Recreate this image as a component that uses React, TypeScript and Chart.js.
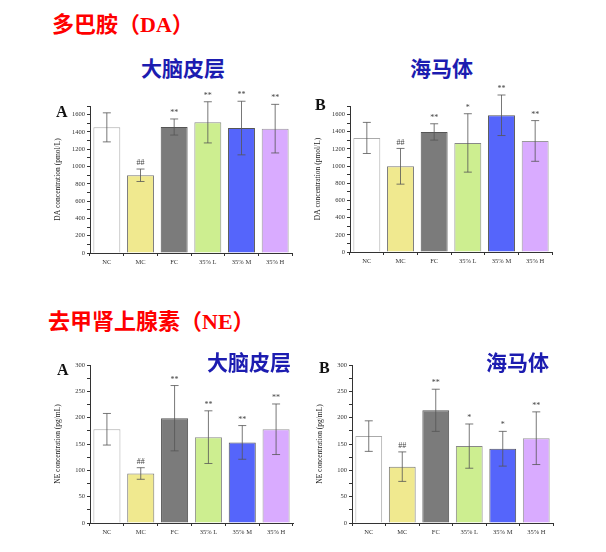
import { useEffect, useRef } from "react"
import { Chart, registerables } from "chart.js"

Chart.register(...registerables)

const groups = ["NC", "MC", "FC", "35% L", "35% M", "35% H"]

const daCortexMean = [1453, 899, 1457, 1511, 1445, 1438]
const daCortexSd = [168, 72, 93, 238, 310, 281]
const daCortexSig = ["", "##", "**", "**", "**", "**"]

const daHippoMean = [1328, 998, 1398, 1270, 1592, 1293]
const daHippoSd = [181, 208, 95, 340, 236, 237]
const daHippoSig = ["", "##", "**", "*", "**", "**"]

const neCortexMean = [178, 94, 199, 163, 153, 178]
const neCortexSd = [30, 11, 62, 50, 32, 48]
const neCortexSig = ["", "##", "**", "**", "**", "**"]

const neHippoMean = [165, 107, 214, 146, 141, 161]
const neHippoSd = [29, 28, 40, 42, 33, 50]
const neHippoSig = ["", "##", "**", "*", "*", "**"]

const barColors = ["#ffffff", "#f0e98f", "#7b7b7b", "#cdee90", "#5565fb", "#d9abff"]
const barBorders = ["#aaaaaa", "#777777", "#555555", "#888888", "#555555", "#999999"]

const serif = '"Liberation Serif", "Times New Roman", serif'
const cjk = '"Liberation Serif", "Noto Sans CJK SC", sans-serif'

// error bars + significance marks, placed with the chart's own scales
const errorBarPlugin = {
  id: "errorBars",
  afterDatasetsDraw(chart: any) {
    const opts = chart.options.plugins.errorBars
    const meta = chart.getDatasetMeta(0)
    const y = chart.scales.y
    const ctx = chart.ctx
    ctx.save()
    ctx.strokeStyle = "#555555"
    ctx.lineWidth = 0.8
    meta.data.forEach((bar: any, i: number) => {
      const m = opts.mean[i]
      const s = opts.sd[i]
      const yHi = y.getPixelForValue(m + s)
      const yLo = y.getPixelForValue(m - s)
      ctx.beginPath()
      ctx.moveTo(bar.x, yHi)
      ctx.lineTo(bar.x, yLo)
      ctx.moveTo(bar.x - 4, yHi)
      ctx.lineTo(bar.x + 4, yHi)
      ctx.moveTo(bar.x - 4, yLo)
      ctx.lineTo(bar.x + 4, yLo)
      ctx.stroke()
      if (opts.sig[i]) {
        ctx.fillStyle = "#444444"
        ctx.font = "8px " + serif
        ctx.textAlign = "center"
        ctx.textBaseline = "bottom"
        ctx.fillText(opts.sig[i], bar.x, yHi - 2)
      }
    })
    ctx.restore()
  },
}

interface PanelProps {
  left: number
  top: number
  width: number
  height: number
  padTop: number
  padRight: number
  xHeight: number
  mean: number[]
  sd: number[]
  sig: string[]
  max: number
  step: number
  labelStep: number
  yTitle: string
}

function Panel(p: PanelProps) {
  const canvasRef = useRef<HTMLCanvasElement>(null)

  useEffect(() => {
    if (!canvasRef.current) return
    const chart = new Chart(canvasRef.current, {
      type: "bar",
      data: {
        labels: groups,
        datasets: [
          {
            data: p.mean,
            backgroundColor: barColors,
            borderColor: barBorders,
            borderWidth: 1,
            barPercentage: 0.8,
            categoryPercentage: 1,
          },
        ],
      },
      options: {
        animation: false,
        responsive: true,
        maintainAspectRatio: false,
        layout: { padding: { top: p.padTop, right: p.padRight, left: 14, bottom: 0 } },
        plugins: {
          legend: { display: false },
          tooltip: { enabled: false },
          errorBars: { mean: p.mean, sd: p.sd, sig: p.sig },
        } as any,
        scales: {
          x: {
            afterFit: (scale: any) => {
              scale.height = p.xHeight
            },
            grid: { drawOnChartArea: false, drawTicks: true, tickLength: 3, color: "#333333" },
            border: { color: "#333333", width: 1 },
            ticks: { color: "#333333", font: { family: serif, size: 6.5 }, padding: 2, maxRotation: 0 },
          },
          y: {
            min: 0,
            max: p.max,
            afterFit: (scale: any) => {
              scale.width = 36
            },
            grid: { drawOnChartArea: false, drawTicks: true, tickLength: 3, color: "#333333" },
            border: { color: "#333333", width: 1 },
            ticks: {
              stepSize: p.step,
              autoSkip: false,
              color: "#333333",
              font: { family: serif, size: 6.5 },
              padding: 2,
              callback: (v: any) => (v % p.labelStep === 0 ? String(v) : ""),
            },
            title: {
              display: true,
              text: p.yTitle,
              color: "#222222",
              font: { family: serif, size: 7.5 },
              padding: { top: 0, bottom: 2 },
            },
          },
        },
      },
      plugins: [errorBarPlugin],
    })
    return () => chart.destroy()
  }, [])

  return (
    <div style={{ position: "absolute", left: p.left, top: p.top, width: p.width, height: p.height }}>
      <canvas ref={canvasRef} />
    </div>
  )
}

const txt = (left: number, top: number, size: number, color: string, text: string, family = cjk) => (
  <div
    style={{
      position: "absolute",
      left,
      top,
      fontSize: size,
      lineHeight: 1,
      fontWeight: "bold",
      color,
      fontFamily: family,
      whiteSpace: "nowrap",
    }}
  >
    {text}
  </div>
)

export default function App() {
  return (
    <div style={{ position: "fixed", left: 0, top: 0, width: 606, height: 552, background: "#ffffff", overflow: "hidden" }}>
      {txt(52, 14, 22, "#ff0000", "多巴胺（DA）")}
      {txt(141, 59, 21, "#1c1cb0", "大脑皮层")}
      {txt(410, 59, 21, "#1c1cb0", "海马体")}
      {txt(48, 311, 22, "#ff0000", "去甲肾上腺素（NE）")}

      <Panel left={40} top={85} width={258} height={190} padTop={21} padRight={6} xHeight={22}
        mean={daCortexMean} sd={daCortexSd} sig={daCortexSig} max={1700} step={100} labelStep={200}
        yTitle="DA concentration (pmol/L)" />
      <Panel left={300} top={80} width={258} height={195} padTop={26} padRight={6} xHeight={23}
        mean={daHippoMean} sd={daHippoSd} sig={daHippoSig} max={1700} step={100} labelStep={200}
        yTitle="DA concentration (pmol/L)" />
      <Panel left={40} top={355} width={258} height={190} padTop={10} padRight={5} xHeight={22}
        mean={neCortexMean} sd={neCortexSd} sig={neCortexSig} max={300} step={25} labelStep={50}
        yTitle="NE concentration (pg/mL)" />
      <Panel left={302} top={355} width={258} height={190} padTop={10} padRight={7} xHeight={22}
        mean={neHippoMean} sd={neHippoSd} sig={neHippoSig} max={300} step={25} labelStep={50}
        yTitle="NE concentration (pg/mL)" />

      {txt(56, 104, 16, "#111111", "A", serif)}
      {txt(315, 97, 16, "#111111", "B", serif)}
      {txt(57, 362, 16, "#111111", "A", serif)}
      {txt(319, 360, 16, "#111111", "B", serif)}
      {txt(207, 353, 21, "#1c1cb0", "大脑皮层")}
      {txt(486, 353, 21, "#1c1cb0", "海马体")}
    </div>
  )
}
